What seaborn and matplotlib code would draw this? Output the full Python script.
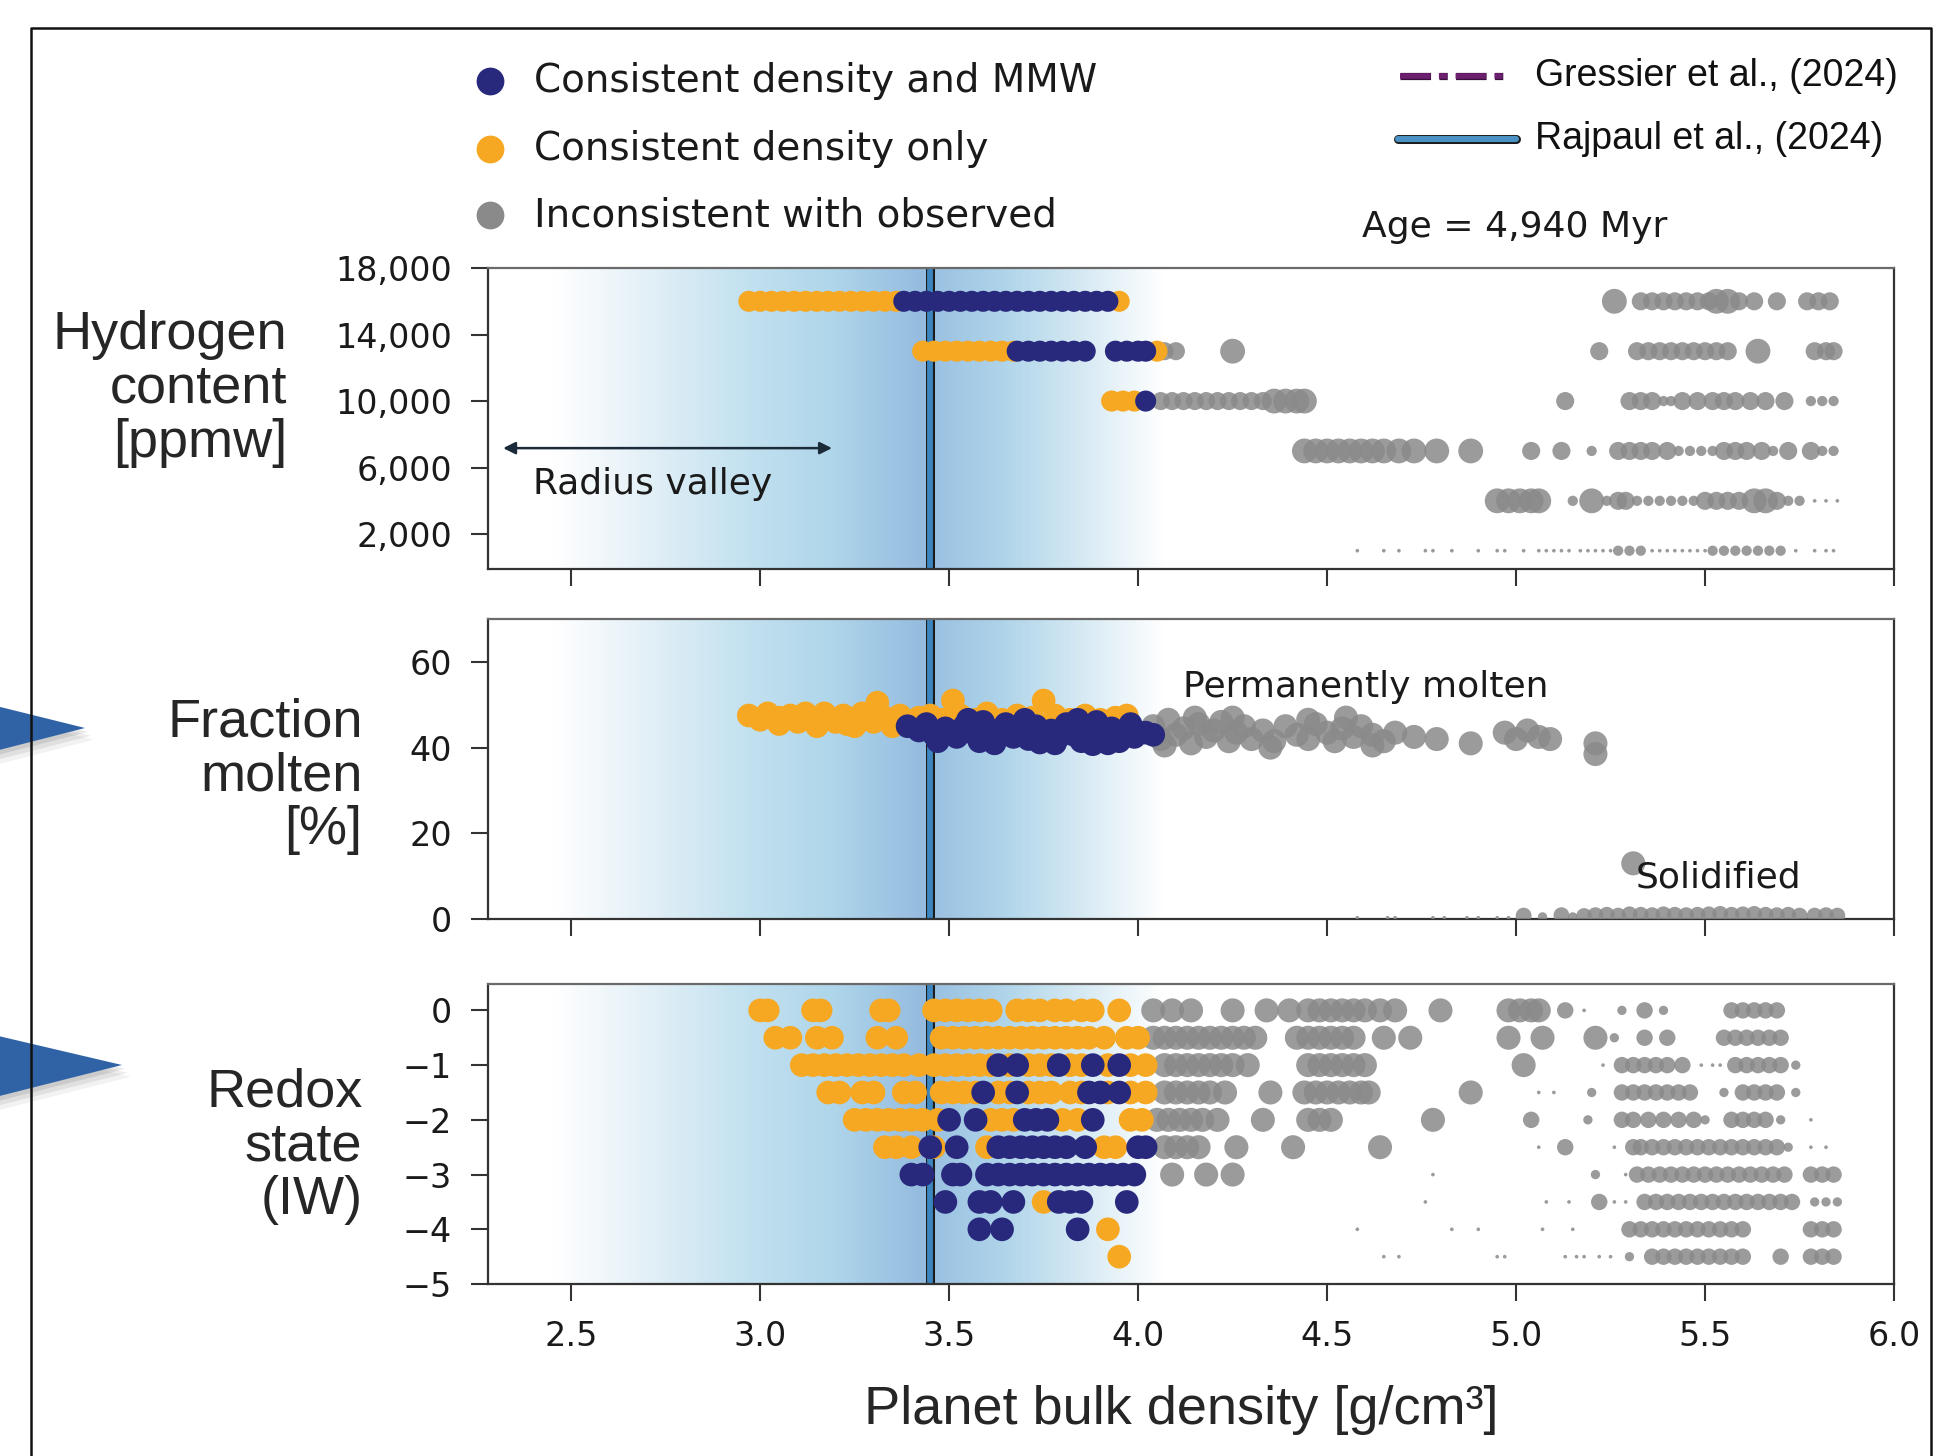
import numpy as np
import pandas as pd
import matplotlib.pyplot as plt
import matplotlib.patheffects as pe
from matplotlib.colors import LinearSegmentedColormap
from matplotlib.lines import Line2D
from matplotlib.patches import Polygon
import seaborn as sns

sns.set_theme(style='white')
plt.rcParams['font.family'] = ['DejaVu Sans']

# ---------------- axis ticks ----------------
x_ticks = [2.5, 3.0, 3.5, 4.0, 4.5, 5.0, 5.5, 6.0]
x_ticklabels = ['2.5', '3.0', '3.5', '4.0', '4.5', '5.0', '5.5', '6.0']
h2_ticks = [2000, 6000, 10000, 14000, 18000]
h2_ticklabels = ['2,000', '6,000', '10,000', '14,000', '18,000']
melt_ticks = [0, 20, 40, 60]
melt_ticklabels = ['0', '20', '40', '60']
redox_ticks = [0, -1, -2, -3, -4, -5]
redox_ticklabels = ['0', '\u22121', '\u22122', '\u22123', '\u22124', '\u22125']

rajpaul_density = 3.45

# ---------------- panel 1 : hydrogen content (ppmw) ----------------
h2_levels = [16000, 13000, 10000, 7000, 4000, 1000]
h2_orange = [
    [2.97, 3.00, 3.03, 3.06, 3.09, 3.12, 3.15, 3.18, 3.21, 3.24, 3.27, 3.30, 3.33, 3.36, 3.95],
    [3.43, 3.46, 3.49, 3.52, 3.55, 3.58, 3.61, 3.64, 3.67, 4.05],
    [3.93, 3.96, 3.99],
    [], [], [],
]
h2_navy = [
    [3.38, 3.41, 3.44, 3.47, 3.50, 3.53, 3.56, 3.59, 3.62, 3.65, 3.68, 3.71, 3.74, 3.77,
     3.80, 3.83, 3.86, 3.89, 3.92],
    [3.68, 3.71, 3.74, 3.77, 3.80, 3.83, 3.86, 3.94, 3.97, 4.00, 4.02],
    [4.02],
    [], [], [],
]
h2_gray_L = [
    [5.26, 5.53, 5.56],
    [4.25, 5.64],
    [4.36, 4.39, 4.42, 4.44],
    [4.44, 4.47, 4.50, 4.53, 4.56, 4.59, 4.62, 4.65, 4.69, 4.73, 4.79, 4.88],
    [4.95, 4.98, 5.01, 5.04, 5.06, 5.20, 5.63, 5.66],
    [],
]
h2_gray_M = [
    [5.33, 5.36, 5.39, 5.42, 5.45, 5.48, 5.51, 5.59, 5.63, 5.69, 5.77, 5.80, 5.83],
    [4.07, 4.10, 5.22, 5.32, 5.35, 5.38, 5.41, 5.44, 5.47, 5.50, 5.53, 5.56, 5.79, 5.82, 5.84],
    [4.06, 4.09, 4.12, 4.15, 4.18, 4.21, 4.24, 4.27, 4.30, 4.33, 5.13, 5.30, 5.33, 5.36,
     5.44, 5.48, 5.52, 5.55, 5.58, 5.62, 5.66, 5.71],
    [5.04, 5.12, 5.27, 5.30, 5.33, 5.36, 5.40, 5.55, 5.58, 5.61, 5.65, 5.72, 5.78],
    [5.27, 5.29, 5.50, 5.53, 5.56, 5.59, 5.69],
    [],
]
h2_gray_S = [
    [], [],
    [5.39, 5.41, 5.78, 5.81, 5.84],
    [5.20, 5.43, 5.46, 5.49, 5.52, 5.68, 5.81, 5.84],
    [5.15, 5.24, 5.32, 5.35, 5.38, 5.41, 5.44, 5.47, 5.72, 5.75],
    [5.27, 5.30, 5.33, 5.52, 5.55, 5.58, 5.61, 5.64, 5.67, 5.70],
]
h2_gray_T = [
    [], [], [], [],
    [5.79, 5.82, 5.85],
    [4.58, 4.65, 4.69, 4.76, 4.78, 4.83, 4.90, 4.95, 4.97, 5.02, 5.06, 5.08, 5.10, 5.12,
     5.14, 5.17, 5.19, 5.21, 5.23, 5.25, 5.36, 5.38, 5.40, 5.42, 5.44, 5.46, 5.48, 5.50,
     5.74, 5.79, 5.82, 5.84],
]

# ---------------- panel 2 : fraction molten (%) ----------------
melt_orange_x = [2.97, 3.00, 3.02, 3.05, 3.08, 3.10, 3.12, 3.15, 3.17, 3.20, 3.22, 3.25, 3.27,
                 3.30, 3.31, 3.33, 3.35, 3.37, 3.40, 3.42, 3.45, 3.48, 3.51, 3.53, 3.57, 3.60,
                 3.64, 3.68, 3.72, 3.75, 3.78, 3.82, 3.86, 3.90, 3.94, 3.97, 3.05, 3.15, 3.25,
                 3.35, 3.23]
melt_orange_y = [47.5, 46.5, 48, 47, 47.5, 46, 48, 46.5, 48, 46, 47.5, 46.5, 48,
                 46, 50.5, 47, 45.5, 47.5, 46, 47, 47.5, 46.5, 51, 47.5, 46.5, 48,
                 46.5, 47.5, 47, 51, 47.5, 46.5, 47.5, 46.5, 47, 47.5, 45.5, 45, 45,
                 45, 45.5]
melt_navy_x = [3.39, 3.42, 3.44, 3.46, 3.49, 3.52, 3.54, 3.57, 3.59, 3.61, 3.63, 3.65, 3.67,
               3.69, 3.71, 3.73, 3.75, 3.77, 3.79, 3.81, 3.83, 3.85, 3.87, 3.89, 3.91, 3.93,
               3.95, 3.97, 3.99, 4.02, 4.04, 3.47, 3.55, 3.62, 3.70, 3.74, 3.78, 3.84, 3.88,
               3.92, 3.98, 3.58]
melt_navy_y = [45, 44, 45.5, 43, 44.5, 42.5, 45, 43, 46, 42, 44, 45.5, 42.5,
               44.5, 42, 45, 43, 44, 42.5, 45.5, 43, 41.5, 44, 46, 42.5, 44.5,
               41.5, 43.5, 42.5, 43.5, 43, 41.5, 46.5, 41, 46.5, 41.2, 41, 46.5, 40.8,
               41, 45.5, 41.5]
melt_gray_x = [4.04, 4.06, 4.08, 4.10, 4.12, 4.14, 4.16, 4.18, 4.20, 4.22, 4.24, 4.26, 4.28,
               4.30, 4.33, 4.36, 4.39, 4.42, 4.45, 4.47, 4.50, 4.52, 4.54, 4.57, 4.59, 4.62,
               4.65, 4.68, 4.73, 4.79, 4.88, 4.97, 5.00, 5.03, 5.06, 5.09, 5.21, 5.21, 4.07,
               4.15, 4.25, 4.35, 4.45, 4.55, 4.62]
melt_gray_y = [45, 42, 46.5, 43, 44.5, 41, 45.5, 42.5, 44, 46, 41.5, 43.5, 45,
               42, 44, 41.5, 45, 43, 42, 45.5, 43.5, 41.5, 44.5, 42.5, 45, 43,
               41.5, 43.5, 42.5, 42, 41, 43.5, 42, 44, 42.5, 42, 41, 38.5, 40.5,
               47, 47, 40, 46.5, 47, 40.5]
melt_solid_x = [4.58, 4.66, 4.68, 4.78, 4.81, 4.87, 4.90, 4.95, 4.98, 5.02, 5.07, 5.12, 5.15,
                5.18, 5.21, 5.24, 5.27, 5.30, 5.33, 5.36, 5.39, 5.42, 5.45, 5.48, 5.51, 5.54,
                5.57, 5.60, 5.63, 5.66, 5.69, 5.72, 5.75, 5.79, 5.82, 5.85, 5.31]
melt_solid_y = [0.3, 0.3, 0.3, 0.3, 0.3, 0.3, 0.3, 0.3, 0.3, 0.8, 0.5, 0.9, 0.5,
                0.7, 0.9, 1.0, 0.8, 1.1, 1.0, 0.9, 1.1, 1.0, 0.9, 1.0, 1.1, 1.2,
                1.0, 1.1, 1.2, 1.0, 0.9, 1.0, 0.8, 0.8, 0.9, 0.8, 13.0]
melt_solid_size = ['T', 'T', 'T', 'T', 'T', 'T', 'T', 'T', 'T', 'M', 'S', 'M', 'S',
                   'M', 'M', 'M', 'M', 'M', 'M', 'M', 'M', 'M', 'M', 'M', 'M', 'M',
                   'M', 'M', 'M', 'M', 'M', 'M', 'M', 'M', 'M', 'M', 'L']

# ---------------- panel 3 : redox state (IW) ----------------
redox_levels = [0, -0.5, -1, -1.5, -2, -2.5, -3, -3.5, -4, -4.5]
redox_orange = [
    [3.00, 3.02, 3.14, 3.16, 3.32, 3.34, 3.46, 3.49, 3.52, 3.55, 3.58, 3.61, 3.68, 3.71,
     3.74, 3.78, 3.81, 3.85, 3.88, 3.95],
    [3.04, 3.08, 3.15, 3.19, 3.31, 3.36, 3.48, 3.51, 3.54, 3.57, 3.60, 3.63, 3.66, 3.69,
     3.72, 3.75, 3.78, 3.81, 3.84, 3.87, 3.91, 3.97, 4.00],
    [3.11, 3.14, 3.17, 3.20, 3.23, 3.26, 3.29, 3.32, 3.35, 3.38, 3.42, 3.46, 3.49, 3.52,
     3.55, 3.58, 3.61, 3.66, 3.71, 3.74, 3.77, 3.82, 3.85, 3.92, 3.98, 4.02],
    [3.18, 3.21, 3.27, 3.30, 3.38, 3.41, 3.48, 3.51, 3.54, 3.57, 3.63, 3.66, 3.71, 3.74,
     3.77, 3.82, 3.85, 3.92, 3.98, 4.02],
    [3.25, 3.28, 3.31, 3.34, 3.37, 3.40, 3.43, 3.47, 3.61, 3.64, 3.67, 3.80, 3.84, 3.98, 4.01],
    [3.33, 3.36, 3.40, 3.46, 3.60, 3.91, 3.94],
    [],
    [3.75],
    [3.92],
    [3.95],
]
redox_navy = [
    [], [],
    [3.63, 3.68, 3.79, 3.88, 3.95],
    [3.59, 3.68, 3.87, 3.90, 3.95],
    [3.50, 3.57, 3.70, 3.73, 3.76, 3.88],
    [3.45, 3.52, 3.63, 3.66, 3.69, 3.72, 3.75, 3.78, 3.81, 3.86, 4.00, 4.02],
    [3.40, 3.43, 3.51, 3.53, 3.60, 3.63, 3.66, 3.69, 3.72, 3.75, 3.78, 3.81, 3.84, 3.87,
     3.90, 3.93, 3.96, 3.99],
    [3.49, 3.58, 3.61, 3.67, 3.79, 3.82, 3.85, 3.97],
    [3.58, 3.64, 3.84],
    [],
]
redox_gray_L = [
    [4.04, 4.09, 4.14, 4.25, 4.34, 4.40, 4.45, 4.48, 4.51, 4.54, 4.57, 4.60, 4.64, 4.68,
     4.80, 4.98, 5.01, 5.04, 5.06],
    [4.04, 4.07, 4.10, 4.13, 4.16, 4.19, 4.22, 4.25, 4.28, 4.31, 4.42, 4.45, 4.48, 4.51,
     4.54, 4.57, 4.65, 4.72, 4.98, 5.07, 5.21],
    [4.07, 4.10, 4.13, 4.16, 4.19, 4.22, 4.25, 4.29, 4.45, 4.48, 4.51, 4.54, 4.57, 4.60, 5.02],
    [4.07, 4.10, 4.13, 4.16, 4.19, 4.23, 4.35, 4.44, 4.47, 4.50, 4.53, 4.56, 4.59, 4.61, 4.88],
    [4.05, 4.08, 4.11, 4.14, 4.17, 4.21, 4.33, 4.45, 4.48, 4.51, 4.78],
    [4.07, 4.10, 4.13, 4.16, 4.26, 4.41, 4.64],
    [4.09, 4.18, 4.25],
    [], [], [],
]
redox_gray_M = [
    [5.13, 5.34, 5.57, 5.60, 5.63, 5.66, 5.69],
    [5.34, 5.40, 5.55, 5.58, 5.61, 5.64, 5.67, 5.70],
    [5.28, 5.31, 5.34, 5.37, 5.40, 5.44, 5.58, 5.61, 5.64, 5.67, 5.70],
    [5.28, 5.31, 5.34, 5.37, 5.40, 5.43, 5.46, 5.60, 5.63, 5.66, 5.69],
    [5.04, 5.28, 5.31, 5.35, 5.39, 5.43, 5.47, 5.57, 5.60, 5.63, 5.66],
    [5.13, 5.31, 5.33, 5.36, 5.39, 5.42, 5.45, 5.48, 5.51, 5.54, 5.57, 5.60, 5.63, 5.66, 5.69],
    [5.32, 5.35, 5.38, 5.41, 5.44, 5.47, 5.50, 5.53, 5.56, 5.59, 5.62, 5.65, 5.68, 5.71,
     5.78, 5.81, 5.84],
    [5.22, 5.34, 5.37, 5.40, 5.43, 5.46, 5.49, 5.52, 5.55, 5.58, 5.61, 5.64, 5.67, 5.70, 5.73],
    [5.30, 5.33, 5.36, 5.39, 5.42, 5.45, 5.48, 5.51, 5.54, 5.57, 5.60, 5.78, 5.81, 5.84],
    [5.36, 5.39, 5.42, 5.45, 5.48, 5.51, 5.54, 5.57, 5.60, 5.70, 5.78, 5.81, 5.84],
]
redox_gray_S = [
    [5.28, 5.39],
    [5.26],
    [5.74],
    [5.20, 5.55, 5.74],
    [5.19, 5.50, 5.70],
    [5.72],
    [5.21],
    [5.79, 5.82, 5.85],
    [],
    [5.30],
]
redox_gray_T = [
    [5.18],
    [],
    [5.23, 5.49, 5.52, 5.54],
    [5.06, 5.10],
    [5.78],
    [5.06, 5.26, 5.78, 5.82],
    [4.78, 5.29],
    [4.76, 5.08, 5.14, 5.26, 5.29],
    [4.58, 4.83, 4.90, 5.07, 5.15],
    [4.65, 4.69, 4.95, 4.97, 5.13, 5.16, 5.18, 5.22, 5.25],
]

# ---------------- shaded radius valley ----------------
valley_stops = [2.45, 2.70, 2.95, 3.20, 3.43, 3.47, 3.65, 3.85, 4.07]
valley_colors = ['#ffffff', '#e3f0f7', '#c4e2f0', '#aed5ea', '#95bcdf', '#9bc2e2',
                 '#b0d5ea', '#d5e9f3', '#ffffff']

point_colors = {'gray': '#8a8a8a', 'orange': '#f7a822', 'navy': '#28297d'}
point_alpha = {'gray': 0.85, 'orange': 1.0, 'navy': 1.0}


def rows_frame(levels, rows, group, size):
    recs = [(x, lev, group, size) for lev, xs in zip(levels, rows) for x in xs]
    return pd.DataFrame(recs, columns=['density', 'value', 'group', 'size'])


def draw_points(ax, df, sizes):
    for grp in ['gray', 'orange', 'navy']:
        sub = df[df['group'] == grp]
        if sub.empty:
            continue
        sns.scatterplot(data=sub, x='density', y='value', size='size', sizes=sizes,
                        color=point_colors[grp], alpha=point_alpha[grp], linewidth=0,
                        legend=False, ax=ax, zorder=3)


span = valley_stops[-1] - valley_stops[0]
valley_cmap = LinearSegmentedColormap.from_list(
    'valley', [((s - valley_stops[0]) / span, c) for s, c in zip(valley_stops, valley_colors)])


def style_panel(ax, ylim, yticks, yticklabels, show_x):
    ax.imshow(np.linspace(0, 1, 800)[None, :], extent=[valley_stops[0], valley_stops[-1], ylim[0], ylim[1]],
              aspect='auto', cmap=valley_cmap, interpolation='bilinear', zorder=0)
    ax.axvline(rajpaul_density, color='#3b86c0', lw=4.2, zorder=2,
               path_effects=[pe.Stroke(linewidth=6.5, foreground='#1b1b1b'), pe.Normal()])
    ax.set_xlim(2.28, 6.0)
    ax.set_ylim(*ylim)
    ax.set_xticks(x_ticks)
    ax.set_xticklabels(x_ticklabels if show_x else [])
    ax.set_yticks(yticks)
    ax.set_yticklabels(yticklabels)
    ax.set_xlabel('')
    ax.set_ylabel('')
    ax.tick_params(axis='both', which='major', bottom=True, left=True, direction='out',
                   length=12, width=1.5, color='#333333', labelsize=24, labelcolor='#1a1a1a')
    ax.tick_params(axis='x', pad=14)
    ax.tick_params(axis='y', pad=14)
    for sp in ax.spines.values():
        sp.set_color('#333333')
        sp.set_linewidth(1.6)
    ax.spines['top'].set_color('#6a6a6a')


fig = plt.figure(figsize=(19.49, 14.56), dpi=100)
ax1 = fig.add_axes([0.2504, 0.6092, 0.7214, 0.2067])
ax2 = fig.add_axes([0.2504, 0.3688, 0.7214, 0.2060])
ax3 = fig.add_axes([0.2504, 0.1181, 0.7214, 0.2060])

# panel 1
h2_df = pd.concat([
    rows_frame(h2_levels, h2_gray_T, 'gray', 'T'),
    rows_frame(h2_levels, h2_gray_S, 'gray', 'S'),
    rows_frame(h2_levels, h2_gray_M, 'gray', 'M'),
    rows_frame(h2_levels, h2_gray_L, 'gray', 'L'),
    rows_frame(h2_levels, h2_orange, 'orange', 'C'),
    rows_frame(h2_levels, h2_navy, 'navy', 'C'),
], ignore_index=True)
draw_points(ax1, h2_df, {'C': 230, 'L': 320, 'M': 170, 'S': 55, 'T': 7})
style_panel(ax1, (-100, 18000), h2_ticks, h2_ticklabels, False)

# panel 2
melt_df = pd.concat([
    pd.DataFrame({'density': melt_solid_x, 'value': melt_solid_y, 'group': 'gray', 'size': melt_solid_size}),
    pd.DataFrame({'density': melt_gray_x, 'value': melt_gray_y, 'group': 'gray', 'size': 'L'}),
    pd.DataFrame({'density': melt_orange_x, 'value': melt_orange_y, 'group': 'orange', 'size': 'C'}),
    pd.DataFrame({'density': melt_navy_x, 'value': melt_navy_y, 'group': 'navy', 'size': 'C'}),
], ignore_index=True)
draw_points(ax2, melt_df, {'C': 290, 'L': 300, 'M': 130, 'S': 45, 'T': 7})
style_panel(ax2, (0, 70), melt_ticks, melt_ticklabels, False)

# panel 3
redox_df = pd.concat([
    rows_frame(redox_levels, redox_gray_T, 'gray', 'T'),
    rows_frame(redox_levels, redox_gray_S, 'gray', 'S'),
    rows_frame(redox_levels, redox_gray_M, 'gray', 'M'),
    rows_frame(redox_levels, redox_gray_L, 'gray', 'L'),
    rows_frame(redox_levels, redox_orange, 'orange', 'C'),
    rows_frame(redox_levels, redox_navy, 'navy', 'C'),
], ignore_index=True)
draw_points(ax3, redox_df, {'C': 290, 'L': 300, 'M': 140, 'S': 45, 'T': 7})
style_panel(ax3, (-5, 0.48), redox_ticks, redox_ticklabels, True)

# annotations inside panels
ax1.annotate('', xy=(2.32, 7170), xytext=(3.19, 7170),
             arrowprops=dict(arrowstyle='<|-|>', color='#1c2b3a', lw=1.8, mutation_scale=18,
                             shrinkA=0, shrinkB=0), zorder=4)
ax1.text(2.40, 5000, 'Radius valley', fontsize=26, va='center', ha='left', color='#1a1a1a', zorder=4)
ax2.text(4.12, 54.2, 'Permanently molten', fontsize=26, va='center', ha='left', color='#1a1a1a', zorder=4)
ax2.text(5.315, 9.6, 'Solidified', fontsize=26, va='center', ha='left', color='#1a1a1a', zorder=4)

# left legend (model categories)
leg_labels = ['Consistent density and MMW', 'Consistent density only', 'Inconsistent with observed']
leg_colors = [point_colors['navy'], point_colors['orange'], point_colors['gray']]
leg_y = [0.9444, 0.8977, 0.8523]
for lab, col, yy in zip(leg_labels, leg_colors, leg_y):
    fig.add_artist(Line2D([0.2514], [yy], marker='o', ms=20, mec='none', mfc=col,
                          linestyle='none', transform=fig.transFigure))
    fig.text(0.274, yy, lab, fontsize=28, va='center', ha='left', color='#1a1a1a')

# right legend (literature values)
lit_font = ['Liberation Sans', 'DejaVu Sans']
fig.add_artist(Line2D([0.7183, 0.7727], [0.9478, 0.9478], color='#6b1f6e', lw=4,
                      linestyle=(0, (5.5, 1.5, 1.5, 1.5)), transform=fig.transFigure,
                      path_effects=[pe.Stroke(linewidth=5.2, foreground='#3a0f3c'), pe.Normal()]))
fig.add_artist(Line2D([0.7173, 0.7778], [0.9045, 0.9045], color='#4a91c4', lw=4.4,
                      transform=fig.transFigure,
                      path_effects=[pe.Stroke(linewidth=6.5, foreground='#1b1b1b'), pe.Normal()]))
fig.text(0.7876, 0.9478, 'Gressier et al., (2024)', fontsize=27, va='center', ha='left',
         family=lit_font, color='#111111')
fig.text(0.7876, 0.9045, 'Rajpaul et al., (2024)', fontsize=27, va='center', ha='left',
         family=lit_font, color='#111111')
fig.text(0.6988, 0.8441, 'Age = 4,940 Myr', fontsize=26, va='center', ha='left', color='#1a1a1a')

# row labels and x label
fig.text(0.1473, 0.733, 'Hydrogen\ncontent\n[ppmw]', fontsize=39, ha='right', va='center',
         family=lit_font, linespacing=1.1, multialignment='right')
fig.text(0.186, 0.467, 'Fraction\nmolten\n[%]', fontsize=39, ha='right', va='center',
         family=lit_font, linespacing=1.1, multialignment='right')
fig.text(0.186, 0.2129, 'Redox\nstate\n(IW)', fontsize=39, ha='right', va='center',
         family=lit_font, linespacing=1.1, multialignment='right')
fig.text(0.606, 0.0316, 'Planet bulk density [g/cm\u00b3]', fontsize=39, ha='center', va='center',
         family=lit_font)

# slide pointers (with a soft shadow) and outer frame
W, H = 1949.0, 1456.0
for tri in ([(-40, 697), (85, 728), (-40, 760)], [(-40, 1027), (122, 1065), (-40, 1106)]):
    for off, a in ((9, 0.05), (6, 0.07), (3, 0.09)):
        shadow = [((x + off) / W, 1 - (y + off * 1.3) / H) for x, y in tri]
        fig.add_artist(Polygon(shadow, closed=True, fc='#000000', alpha=a, ec='none',
                               transform=fig.transFigure))
    fig.add_artist(Polygon([(x / W, 1 - y / H) for x, y in tri], closed=True, fc='#2f63a6',
                           ec='none', transform=fig.transFigure))
fig.add_artist(Line2D([0.0159, 0.0159, 0.9908, 0.9908], [0.0, 0.9808, 0.9808, 0.0],
                      color='#111111', lw=1.8, transform=fig.transFigure))

fig.savefig('out.png', dpi=100)
